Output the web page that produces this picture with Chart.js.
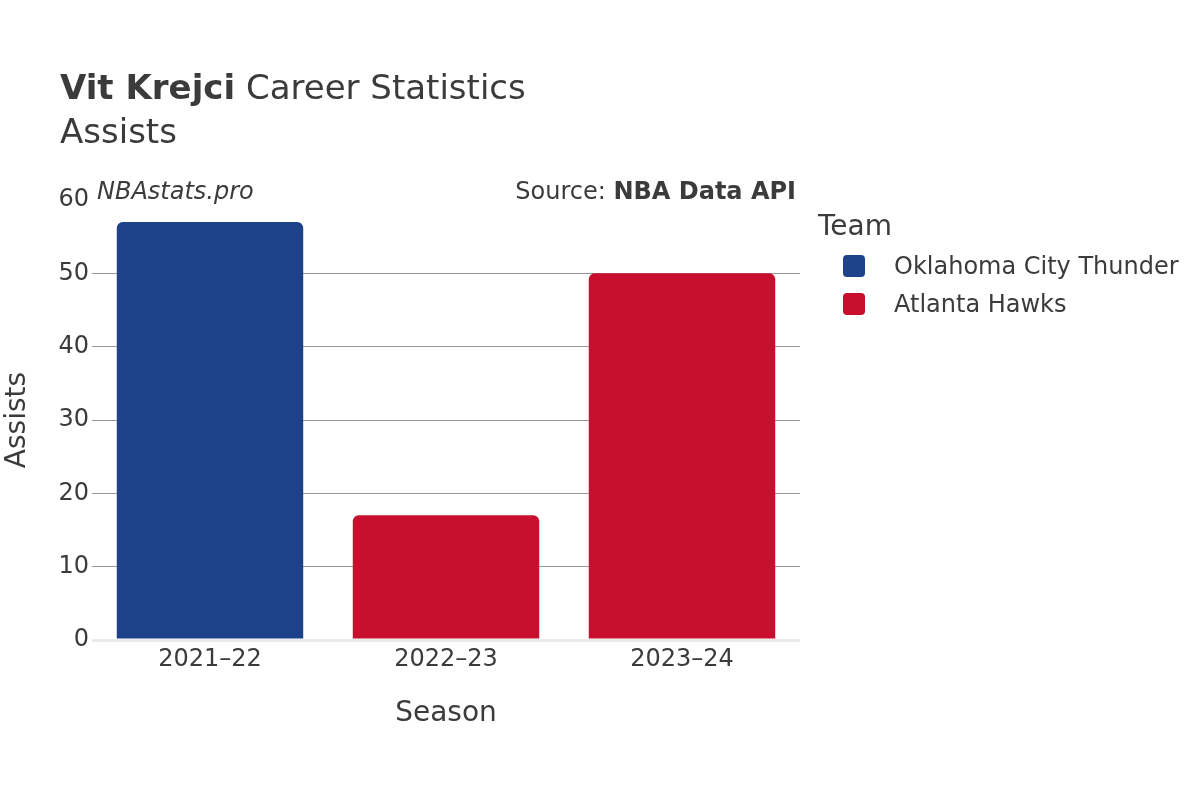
<!DOCTYPE html>
<html>
<head>
<meta charset="utf-8">
<script src="https://cdn.jsdelivr.net/npm/chart.js@4"></script>
<style>
html,body{margin:0;padding:0;background:#fff;}
#wrap{width:1200px;height:800px;position:relative;}
</style>
</head>
<body>
<div id="wrap"><canvas id="c" width="1200" height="800"></canvas></div>
<script>
const seasons = ["2021–22", "2022–23", "2023–24"];
const teams = ["Oklahoma City Thunder", "Atlanta Hawks"];
const okcAssists = [57, null, null];
const atlAssists = [null, 17, 50];
const yTicks = [0, 10, 20, 30, 40, 50, 60];
const teamColors = ["#1d428a", "#c8102e"];

const FONT = "'DejaVu Sans', sans-serif";
const TXT = "#3b3b3b";

const textPlugin = {
  id: 'texts',
  afterDraw(chart) {
    const ctx = chart.ctx;
    ctx.save();
    ctx.fillStyle = TXT;
    ctx.textBaseline = 'middle';
    ctx.textAlign = 'left';
    ctx.font = "bold 34px " + FONT;
    const t1 = "Vit Krejci";
    ctx.fillText(t1, 60, 90);
    const w = ctx.measureText(t1).width;
    ctx.font = "34px " + FONT;
    ctx.fillText(" Career Statistics", 60 + w, 90);
    ctx.font = "34px " + FONT;
    ctx.fillText("Assists", 60, 134);
    ctx.font = "italic 24px " + FONT;
    ctx.fillText("NBAstats.pro", 97, 193);
    ctx.textAlign = 'right';
    ctx.font = "bold 24px " + FONT;
    const src = "NBA Data API";
    ctx.fillText(src, 796, 193);
    const sw = ctx.measureText(src).width;
    ctx.font = "24px " + FONT;
    ctx.fillText("Source: ", 796 - sw, 193);
    // legend
    ctx.textAlign = 'left';
    ctx.font = "28px " + FONT;
    ctx.fillText("Team", 818, 228);
    ctx.font = "24px " + FONT;
    chart.data.datasets.forEach((ds, i) => {
      const y = 266 + i * 38;
      ctx.fillStyle = ds.backgroundColor;
      ctx.beginPath();
      ctx.roundRect(843, y - 11, 22, 22, 4);
      ctx.fill();
      ctx.fillStyle = TXT;
      ctx.fillText(ds.label, 894, y + 2);
    });
    ctx.restore();
  }
};

new Chart(document.getElementById('c'), {
  type: 'bar',
  data: {
    labels: seasons,
    datasets: [
      { label: teams[0], data: okcAssists, backgroundColor: teamColors[0], borderRadius: 6, borderSkipped: 'bottom' },
      { label: teams[1], data: atlAssists, backgroundColor: teamColors[1], borderRadius: 6, borderSkipped: 'bottom' }
    ]
  },
  options: {
    responsive: false,
    animation: false,
    devicePixelRatio: 1,
    layout: { padding: { left: 0, right: 400, top: 200, bottom: 0 } },
    datasets: { bar: { grouped: false, barPercentage: 0.79, categoryPercentage: 1.0 } },
    plugins: { legend: { display: false }, tooltip: { enabled: false }, title: { display: false } },
    scales: {
      x: {
        grid: { display: false, drawTicks: false },
        border: { display: false },
        ticks: { color: TXT, font: { family: FONT, size: 24 }, padding: 5 },
        title: { display: true, text: 'Season', color: TXT, font: { family: FONT, size: 28 }, padding: { top: 0, bottom: 69 } },
        afterFit(s) { s.height = 160; }
      },
      y: {
        min: 0, max: 60,
        afterBuildTicks(s) { s.ticks = yTicks.map(v => ({ value: v })); },
        grid: {
          drawTicks: false,
          color: c => c.tick.value === 0 ? '#ebebeb' : (c.tick.value === 60 ? 'rgba(0,0,0,0)' : '#999999'),
          lineWidth: c => c.tick.value === 0 ? 3 : 1
        },
        border: { display: false },
        ticks: { color: TXT, font: { family: FONT, size: 24 }, padding: 3 },
        title: { display: true, text: 'Assists', color: TXT, font: { family: FONT, size: 28 }, padding: { top: 1, bottom: 0 } },
        afterFit(s) { s.width = 92; }
      }
    }
  },
  plugins: [textPlugin]
});
</script>
</body>
</html>
